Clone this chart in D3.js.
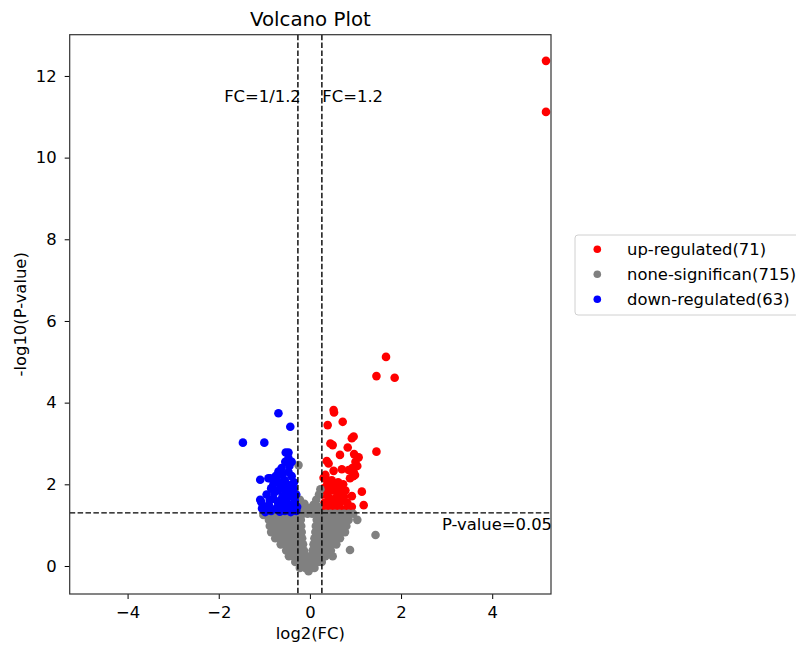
<!DOCTYPE html>
<html>
<head>
<meta charset="utf-8">
<script src="https://cdn.jsdelivr.net/npm/d3@7"></script>
<style>
  body { margin: 0; background: white; }
  svg text { font-family: "DejaVu Sans", sans-serif; fill: #000; }
</style>
</head>
<body>
<div id="wrapper"></div>
<script>
// points as [log2(FC), -log10(P-value)]
const upPoints = [
  [5.18, 12.37], [5.18, 11.12], [1.67, 5.12], [1.46, 4.65], [1.86, 4.61], [1.46, 2.80],
  [0.52, 3.82], [0.53, 3.76], [0.72, 3.53], [0.39, 3.45], [0.96, 3.17], [0.92, 3.13],
  [0.45, 3.00], [0.50, 2.96], [0.83, 2.90], [0.66, 2.72], [0.97, 2.74], [1.07, 2.66],
  [0.37, 2.57], [0.41, 2.51], [1.00, 2.55], [0.93, 2.40], [1.04, 2.45], [0.70, 2.37],
  [0.52, 2.33], [0.85, 2.35], [0.96, 2.30], [0.30, 2.16], [0.37, 2.11], [0.45, 1.95],
  [0.59, 1.95], [0.73, 2.00], [1.14, 1.82], [0.92, 1.71], [1.18, 1.49], [0.92, 1.45],
  [0.95, 2.20], [0.88, 2.15], [0.34, 2.23], [0.99, 2.23],
  [0.30, 1.90], [0.35, 1.80], [0.40, 1.70], [0.45, 1.60], [0.50, 1.50], [0.55, 1.40],
  [0.60, 1.35], [0.35, 1.45], [0.30, 1.35], [0.40, 1.35], [0.50, 1.35], [0.65, 1.50],
  [0.70, 1.60], [0.75, 1.70], [0.60, 1.80], [0.55, 1.65], [0.45, 1.40], [0.80, 1.40],
  [0.72, 1.35], [0.32, 1.55], [0.28, 1.75], [0.42, 1.95], [0.50, 1.85], [0.65, 1.90],
  [0.78, 1.85], [0.38, 2.00], [0.58, 1.55], [0.68, 1.75], [0.62, 2.05], [0.48, 2.10],
  [0.82, 1.55],
]

const nonePoints = [
  [-1.02, 1.25], [-0.94, 1.28], [-0.85, 1.28], [-0.75, 1.28], [-0.65, 1.28], [-0.55, 1.28],
  [-0.45, 1.28], [-0.35, 1.28], [-0.25, 1.28], [-0.15, 1.28], [-0.05, 1.28], [0.05, 1.28],
  [0.15, 1.28], [0.25, 1.28], [0.35, 1.28], [0.45, 1.28], [0.55, 1.28], [0.65, 1.28],
  [0.75, 1.28], [0.85, 1.28], [0.95, 1.28],
  [-0.90, 1.13], [-0.80, 1.13], [-0.70, 1.13], [-0.60, 1.13], [-0.50, 1.13], [-0.40, 1.13],
  [-0.30, 1.13], [-0.20, 1.13], [0.15, 1.13], [0.25, 1.13], [0.35, 1.13], [0.45, 1.13],
  [0.55, 1.13], [0.65, 1.13], [0.75, 1.13], [0.85, 1.13], [1.04, 1.13],
  [-0.88, 0.98], [-0.78, 0.98], [-0.68, 0.98], [-0.58, 0.98], [-0.48, 0.98], [-0.38, 0.98],
  [-0.28, 0.98], [-0.19, 0.98], [0.13, 0.98], [0.22, 0.98], [0.32, 0.98], [0.42, 0.98],
  [0.52, 0.98], [0.62, 0.98], [0.72, 0.98], [0.80, 0.98],
  [-0.85, 0.83], [-0.75, 0.83], [-0.65, 0.83], [-0.55, 0.83], [-0.45, 0.83], [-0.35, 0.83],
  [-0.25, 0.83], [-0.18, 0.83], [0.12, 0.83], [0.20, 0.83], [0.30, 0.83], [0.40, 0.83],
  [0.50, 0.83], [0.60, 0.83], [0.70, 0.83], [0.77, 0.83],
  [-0.76, 0.68], [-0.66, 0.68], [-0.56, 0.68], [-0.46, 0.68], [-0.36, 0.68], [-0.26, 0.68],
  [-0.17, 0.68], [0.10, 0.68], [0.18, 0.68], [0.28, 0.68], [0.38, 0.68], [0.48, 0.68],
  [0.58, 0.68], [0.66, 0.68],
  [-0.64, 0.53], [-0.54, 0.53], [-0.44, 0.53], [-0.34, 0.53], [-0.24, 0.53], [-0.15, 0.53],
  [0.08, 0.53], [0.18, 0.53], [0.28, 0.53], [0.38, 0.53], [0.48, 0.53], [0.58, 0.53],
  [-0.52, 0.38], [-0.42, 0.38], [-0.32, 0.38], [-0.22, 0.38], [-0.13, 0.38], [0.06, 0.38],
  [0.16, 0.38], [0.26, 0.38], [0.36, 0.38], [0.46, 0.38], [0.88, 0.39],
  [-0.46, 0.24], [-0.36, 0.24], [-0.26, 0.24], [-0.16, 0.24], [-0.06, 0.24], [0.04, 0.24],
  [0.14, 0.24], [0.24, 0.24], [0.34, 0.24], [0.50, 0.24],
  [-0.32, 0.10], [-0.22, 0.10], [-0.12, 0.10], [-0.02, 0.10], [0.08, 0.10], [0.18, 0.10],
  [0.26, 0.10], [-0.22, -0.05], [-0.10, -0.05], [0.02, -0.05], [0.10, -0.05], [-0.03, -0.13],
  [1.44, 0.76],
  [-0.25, 2.47], [-0.22, 1.62], [-0.12, 1.52], [-0.02, 1.42], [0.08, 1.50], [0.14, 1.62],
  [0.20, 1.75], [0.23, 1.88], [0.18, 1.45], [-0.18, 1.40], [0.10, 1.38],
]

const downPoints = [
  [-0.69, 3.74], [-0.43, 3.41], [-1.47, 3.02], [-1.00, 3.02], [-0.53, 2.78], [-0.47, 2.78],
  [-0.54, 2.55], [-0.40, 2.55], [-0.45, 2.45], [-0.47, 2.64],
  [-1.09, 2.11], [-0.91, 2.15], [-0.87, 2.15], [-0.69, 2.31], [-0.47, 2.30], [-0.60, 2.25],
  [-0.75, 2.20], [-0.55, 2.10], [-0.35, 2.05], [-0.80, 2.00], [-0.65, 2.00], [-0.45, 1.95],
  [-0.85, 1.90], [-0.70, 1.85], [-0.55, 1.85], [-0.38, 1.80], [-0.95, 1.75], [-0.60, 1.70],
  [-0.45, 1.70], [-0.30, 1.75], [-0.80, 1.65], [-1.09, 1.62], [-1.07, 1.57], [-0.70, 1.55],
  [-0.50, 1.55], [-0.35, 1.50], [-0.90, 1.50], [-1.05, 1.41], [-1.02, 1.41], [-0.60, 1.45],
  [-0.40, 1.40], [-0.75, 1.40], [-0.30, 1.35], [-0.55, 1.35], [-0.85, 1.35], [-0.95, 1.45],
  [-0.65, 1.60], [-0.50, 2.00], [-0.40, 2.20], [-0.62, 2.40], [-0.72, 2.10], [-0.33, 1.60],
  [-0.48, 1.80], [-0.58, 1.95], [-0.28, 1.45], [-0.42, 1.32], [-0.66, 1.33], [-0.78, 1.80],
  [-0.88, 1.62], [-0.36, 1.90], [-0.52, 1.42], [-0.62, 2.05], [-0.98, 1.32],
]

const groups = ["up", "none", "down"]
const groupLabels = ["up-regulated(71)", "none-significan(715)", "down-regulated(63)"]
const groupColors = ["#ff0000", "#808080", "#0000ff"]

const xTicks = [-4, -2, 0, 2, 4]
const yTicks = [0, 2, 4, 6, 8, 10, 12]
const xDomain = [-5.27, 5.29]
const yDomain = [-0.686, 13.01]

// threshold lines
const fcCut = Math.log2(1.2)
const pCut = -Math.log10(0.05)

function drawVolcano() {
  const fontSize = "16.4px"
  const dimensions = {
    width: 796,
    height: 649,
    margin: { top: 34.7, left: 69.7, right: 245, bottom: 55 },
  }
  dimensions.boundedWidth = dimensions.width - dimensions.margin.left - dimensions.margin.right
  dimensions.boundedHeight = dimensions.height - dimensions.margin.top - dimensions.margin.bottom

  const wrapper = d3.select("#wrapper")
    .append("svg")
      .attr("width", dimensions.width)
      .attr("height", dimensions.height)

  const bounds = wrapper.append("g")
    .attr("transform", `translate(${dimensions.margin.left},${dimensions.margin.top})`)

  const xScale = d3.scaleLinear()
    .domain(xDomain)
    .range([0, dimensions.boundedWidth])

  const yScale = d3.scaleLinear()
    .domain(yDomain)
    .range([dimensions.boundedHeight, 0])

  const colorScale = d3.scaleOrdinal()
    .domain(groups)
    .range(groupColors)

  bounds.append("clipPath").attr("id", "plot-clip")
    .append("rect")
      .attr("width", dimensions.boundedWidth)
      .attr("height", dimensions.boundedHeight)

  const plot = bounds.append("g").attr("clip-path", "url(#plot-clip)")

  const dataByGroup = [upPoints, nonePoints, downPoints]
  dataByGroup.forEach((pts, i) => {
    plot.append("g").selectAll("circle")
      .data(pts)
      .join("circle")
        .attr("cx", d => xScale(d[0]))
        .attr("cy", d => yScale(d[1]))
        .attr("r", 4.3)
        .attr("fill", colorScale(groups[i]))
  })

  // dashed cut-off lines
  const dash = "5.5,2.4"
  ;[-fcCut, fcCut].forEach(v => {
    plot.append("line")
      .attr("x1", xScale(v)).attr("x2", xScale(v))
      .attr("y1", 0).attr("y2", dimensions.boundedHeight)
      .attr("stroke", "#000").attr("stroke-width", 1.4)
      .attr("stroke-dasharray", dash)
  })
  plot.append("line")
    .attr("x1", 0).attr("x2", dimensions.boundedWidth)
    .attr("y1", yScale(pCut)).attr("y2", yScale(pCut))
    .attr("stroke", "#000").attr("stroke-width", 1.4)
    .attr("stroke-dasharray", dash)

  bounds.append("text")
    .attr("x", xScale(-0.2))
    .attr("y", yScale(11.36))
    .attr("text-anchor", "end")
    .style("font-size", fontSize)
    .text("FC=1/1.2")

  bounds.append("text")
    .attr("x", xScale(fcCut) + 0.5)
    .attr("y", yScale(11.36))
    .style("font-size", fontSize)
    .text("FC=1.2")

  bounds.append("text")
    .attr("x", dimensions.boundedWidth + 1)
    .attr("y", yScale(0.89))
    .attr("text-anchor", "end")
    .style("font-size", fontSize)
    .text("P-value=0.05")

  // axes
  const xAxisGenerator = d3.axisBottom(xScale)
    .tickValues(xTicks)
    .tickSizeOuter(0)
    .tickSize(5)
    .tickPadding(7.7)

  const xAxis = bounds.append("g")
    .attr("transform", `translate(0,${dimensions.boundedHeight})`)
    .call(xAxisGenerator)

  const yAxisGenerator = d3.axisLeft(yScale)
    .tickValues(yTicks)
    .tickSizeOuter(0)
    .tickSize(5)
    .tickPadding(8)

  const yAxis = bounds.append("g")
    .call(yAxisGenerator)

  ;[xAxis, yAxis].forEach(ax => {
    ax.select(".domain").remove()
    ax.selectAll(".tick line").attr("stroke", "#000").attr("stroke-width", 1)
    ax.selectAll(".tick text")
      .style("font-size", fontSize)
      .style("font-family", "DejaVu Sans, sans-serif")
      .attr("fill", "#222")
  })

  bounds.append("rect")
    .attr("width", dimensions.boundedWidth)
    .attr("height", dimensions.boundedHeight)
    .attr("fill", "none")
    .attr("stroke", "#333")
    .attr("stroke-width", 1.2)

  // labels
  wrapper.append("text")
    .attr("x", dimensions.margin.left + dimensions.boundedWidth / 2)
    .attr("y", 25.5)
    .attr("text-anchor", "middle")
    .style("font-size", "19.8px")
    .text("Volcano Plot")

  wrapper.append("text")
    .attr("x", dimensions.margin.left + dimensions.boundedWidth / 2)
    .attr("y", 639)
    .attr("text-anchor", "middle")
    .style("font-size", fontSize)
    .text("log2(FC)")

  wrapper.append("text")
    .attr("transform", `translate(26,${dimensions.margin.top + dimensions.boundedHeight / 2}) rotate(-90)`)
    .attr("text-anchor", "middle")
    .style("font-size", fontSize)
    .text("-log10(P-value)")

  // legend
  const legend = wrapper.append("g")
    .attr("transform", "translate(575,235)")

  legend.append("rect")
    .attr("x", 0).attr("y", 0)
    .attr("width", 240).attr("height", 80)
    .attr("rx", 3)
    .attr("fill", "white")
    .attr("stroke", "#d0d0d0")
    .attr("stroke-width", 1)

  const rows = legend.selectAll(".row")
    .data(groups)
    .join("g")
      .attr("transform", (d, i) => `translate(0,${14.3 + i * 25})`)

  rows.append("circle")
    .attr("cx", 22.3)
    .attr("r", 3.8)
    .attr("fill", d => colorScale(d))

  rows.append("text")
    .attr("x", 52)
    .attr("dy", "0.35em")
    .style("font-size", fontSize)
    .text((d, i) => groupLabels[i])
}
drawVolcano()
</script>
</body>
</html>
